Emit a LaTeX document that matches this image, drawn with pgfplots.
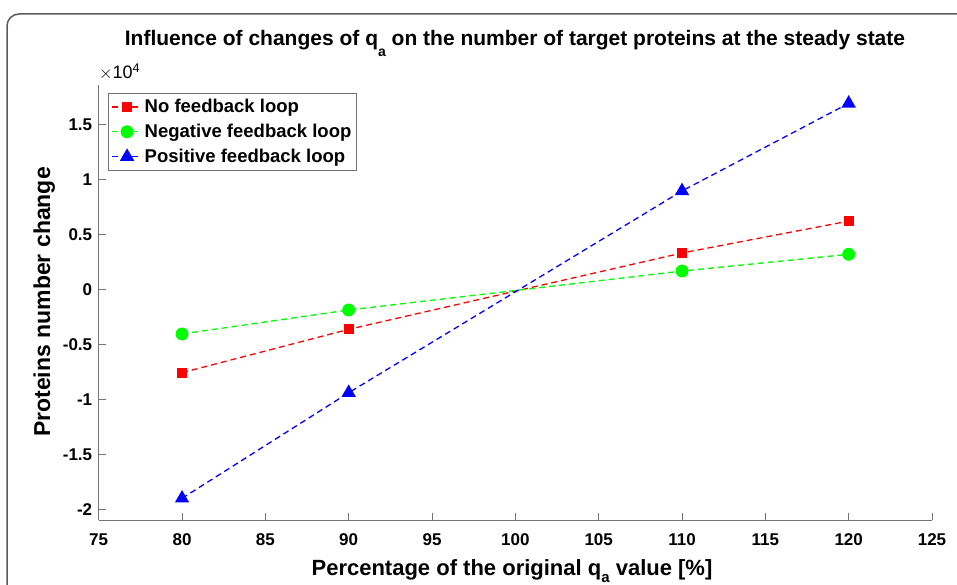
\documentclass[border=0pt]{standalone}
\usepackage{pgfplots}
\pgfplotsset{compat=1.18}
\usepackage{fontspec}
\setmainfont{Liberation Sans}
\definecolor{axgray}{gray}{0.45}
\definecolor{framegray}{gray}{0.35}
\newcommand{\subA}[2]{\raisebox{#2}{\fontsize{#1}{#1}\selectfont a}}

\pgfplotstableread{
x y
80 -7580
90 -3640
110 3300
120 6200
}\nofb
\pgfplotstableread{
x y
80 -4060
90 -1880
110 1660
120 3180
}\negfb
\pgfplotstableread{
x y
80 -19000
90 -9400
110 8940
120 16900
}\posfb

\begin{document}
\begin{tikzpicture}
\useasboundingbox (0pt,0pt) rectangle (957pt,584pt);
\draw[framegray, line width=1.5pt, rounded corners=12pt] (7pt,-40pt) -- (7pt,570pt) -- (1000pt,570pt);
\begin{axis}[
  at={(98.7pt,64pt)}, anchor=south west,
  width=833.3pt, height=435pt, scale only axis,
  xmin=75, xmax=125, ymin=-20970, ymax=18570,
  axis x line*=bottom, axis y line*=left,
  axis line style={axgray, line width=1pt},
  xtick={75,80,...,125},
  ytick={-20000,-15000,...,15000},
  scaled y ticks=manual:{}{\pgfmathparse{#1/10000}},
  yticklabel style={/pgf/number format/fixed, /pgf/number format/precision=1},
  /pgf/number format/assume math mode=true,
  tick align=inside, major tick length=7pt,
  tick style={axgray, line width=1pt},
  ticklabel style={font=\fontsize{17}{17}\selectfont\bfseries},
  xticklabel style={yshift=-10pt},
  yticklabel style={xshift=-3pt},
  legend style={at={(0.0112,0.9816)}, anchor=north west, draw=axgray, line width=0.8pt,
    font=\fontsize{18.5}{18.5}\selectfont\bfseries, inner xsep=3pt, inner ysep=4pt, row sep=6pt,
    legend cell align=left},
  legend image code/.code={\draw[mark repeat=2,mark phase=2,#1] plot coordinates {(0pt,0pt)(15pt,0pt)(30pt,0pt)};},
]
\addplot[red, dash pattern=on 6pt off 4pt, line width=1.3pt, mark=square*, mark size=4.5pt, mark options={solid, fill=red}] table[x=x,y=y] {\nofb};
\addlegendentry{No feedback loop}
\addplot[green, dash pattern=on 6pt off 4pt, line width=1.3pt, mark=*, mark size=5.8pt, mark options={solid, fill=green}] table[x=x,y=y] {\negfb};
\addlegendentry{Negative feedback loop}
\addplot[blue, dash pattern=on 6pt off 4pt, line width=1.3pt, mark=triangle*, mark size=7pt, mark options={solid, fill=blue}] table[x=x,y=y] {\posfb};
\addlegendentry{Positive feedback loop}
\end{axis}
\node[anchor=base west, inner sep=0pt, font=\fontsize{18}{18}\selectfont] at (99pt,505pt) {$\times$10\textsuperscript{4}};
\node[anchor=base, inner sep=0pt, font=\fontsize{21}{21}\selectfont\bfseries] at (515pt,538pt) {Influence of changes of q\subA{14}{-0.5em} on the number of target proteins at the steady state};
\node[anchor=base, inner sep=0pt, font=\fontsize{22}{22}\selectfont\bfseries] at (512pt,9pt) {Percentage of the original q\subA{15}{-0.35em} value [\%]};
\node[anchor=base, inner sep=0pt, rotate=90, font=\fontsize{23}{23}\selectfont\bfseries] at (50pt,282pt) {Proteins number change};
\end{tikzpicture}
\end{document}
